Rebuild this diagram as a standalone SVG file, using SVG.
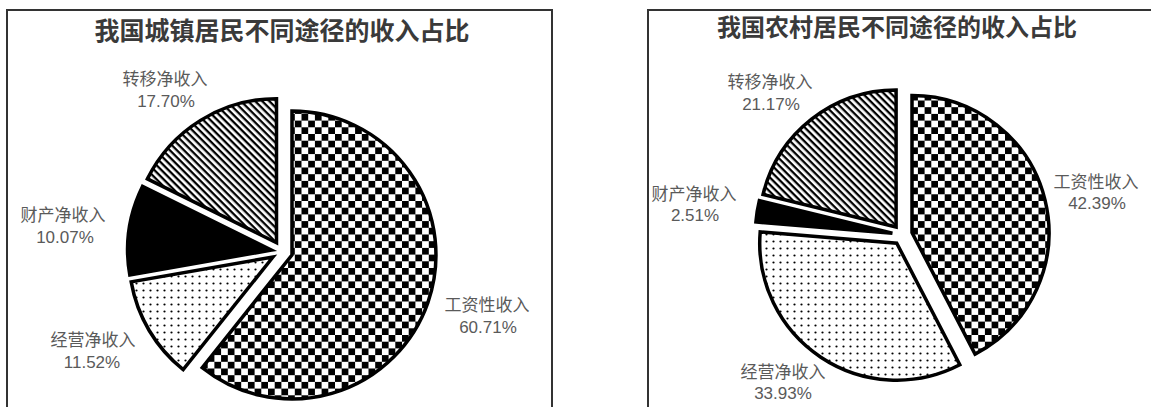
<svg xmlns="http://www.w3.org/2000/svg" width="1151" height="407" viewBox="0 0 1151 407">
  <style>
    .frame { fill: #ffffff; stroke: #333333; stroke-width: 2; }
    .title { font-family: "Noto Sans CJK SC", "Noto Sans", sans-serif; font-weight: 700; fill: #3a3a3a; text-anchor: middle; }
    .lbl { font-family: "Noto Sans CJK SC", "Noto Sans", sans-serif; font-size: 17px; fill: #5a5a5a; text-anchor: middle; }
    .num { font-family: "Liberation Sans", "Noto Sans", sans-serif; font-size: 17px; fill: #5a5a5a; text-anchor: middle; }
    .slice { stroke: #000000; stroke-width: 3.5; stroke-linejoin: miter; }
    .checker { fill: url(#checker); }
    .stripe { fill: url(#stripes); }
    .dots { fill: url(#dots); }
    .solid { fill: #000000; }
  </style>
  <defs>
    <pattern id="checker" patternUnits="userSpaceOnUse" width="13.4" height="13.4">
      <rect x="0" y="0" width="13.4" height="13.4" fill="#ffffff"/>
      <rect x="0" y="0" width="6.7" height="6.7" fill="#000000"/>
      <rect x="6.7" y="6.7" width="6.7" height="6.7" fill="#000000"/>
    </pattern>
    <pattern id="stripes" patternUnits="userSpaceOnUse" width="5" height="5" patternTransform="rotate(45)">
      <rect x="0" y="0" width="5" height="5" fill="#ffffff"/>
      <rect x="0" y="0" width="5" height="2.3" fill="#000000"/>
    </pattern>
    <pattern id="dots" patternUnits="userSpaceOnUse" width="7" height="7">
      <rect x="0" y="0" width="7" height="7" fill="#ffffff"/>
      <circle cx="3.5" cy="3.5" r="1.1" fill="#000000"/>
    </pattern>
  </defs>
  <rect width="1151" height="407" fill="#ffffff"/>

  <g id="panel-urban">
    <rect class="frame" x="7" y="10" width="545" height="405"/>
    <text class="title" x="282" y="40" font-size="25">我国城镇居民不同途径的收入占比</text>
  </g>
  <g id="panel-rural">
    <rect class="frame" x="648" y="10" width="520" height="405"/>
    <text class="title" x="897" y="36" font-size="24">我国农村居民不同途径的收入占比</text>
  </g>

  <g id="urban-wage">
    <path class="slice checker" d="M292,255 L292,111 A144,144 0 1 1 202.2,367.6 Z"/>
    <text class="lbl" x="487" y="311">工资性收入</text>
    <text class="num" x="488" y="333">60.71%</text>
  </g>
  <g id="urban-business">
    <path class="slice dots" d="M273,257 L183.2,369.6 A144,144 0 0 1 131.2,281.9 Z"/>
    <text class="lbl" x="93" y="346">经营净收入</text>
    <text class="num" x="92" y="368">11.52%</text>
  </g>
  <g id="urban-property">
    <path class="slice solid" d="M271.6,250.1 L129.8,275 A144,144 0 0 1 142.5,186.4 Z"/>
    <text class="lbl" x="63" y="221">财产净收入</text>
    <text class="num" x="65" y="243">10.07%</text>
  </g>
  <g id="urban-transfer">
    <path class="slice stripe" d="M276.5,242.7 L147.4,178.9 A144,144 0 0 1 276.5,98.7 Z"/>
    <text class="lbl" x="165" y="85">转移净收入</text>
    <text class="num" x="166" y="107">17.70%</text>
  </g>

  <g id="rural-wage">
    <path class="slice checker" d="M912,232.5 L912,95.5 A137,137 0 0 1 975.05,354.1 Z"/>
    <text class="lbl" x="1096" y="188">工资性收入</text>
    <text class="num" x="1097" y="209">42.39%</text>
  </g>
  <g id="rural-business">
    <path class="slice dots" d="M896.75,243.2 L959.8,364.8 A137,137 0 0 1 760.2,231.9 Z"/>
    <text class="lbl" x="783" y="378">经营净收入</text>
    <text class="num" x="783" y="399">33.93%</text>
  </g>
  <g id="rural-property">
    <path class="slice solid" d="M892.4,233.3 L755.9,222 A137,137 0 0 1 759.35,200.6 Z"/>
    <text class="lbl" x="694" y="200">财产净收入</text>
    <text class="num" x="695" y="221">2.51%</text>
  </g>
  <g id="rural-transfer">
    <path class="slice stripe" d="M896.1,227 L763.05,194.35 A137,137 0 0 1 896.1,90 Z"/>
    <text class="lbl" x="770" y="88">转移净收入</text>
    <text class="num" x="771" y="110">21.17%</text>
  </g>

  <g id="connectors"></g>
</svg>
